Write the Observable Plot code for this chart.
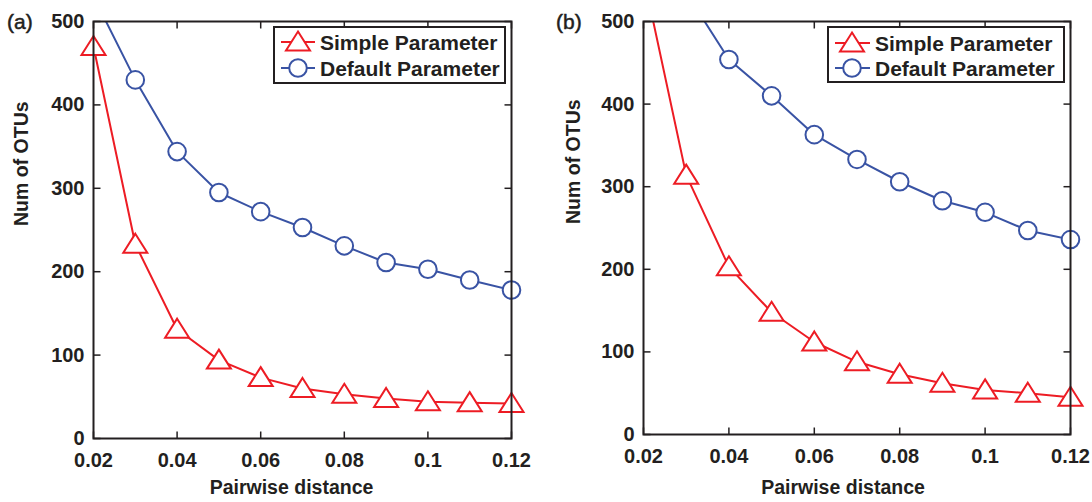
<!DOCTYPE html>
<html><head><meta charset="utf-8">
<script src="https://cdn.jsdelivr.net/npm/d3@7"></script>
<script src="https://cdn.jsdelivr.net/npm/@observablehq/plot@0.6"></script>
<style>
body{margin:0;background:#fff;font-family:"Liberation Sans",Arial,sans-serif;}
#wrap{position:relative;width:1092px;height:502px;overflow:hidden;background:#fff;}
.panel{position:absolute;top:0;}
.plabel{position:absolute;font-size:21px;line-height:21px;color:#231f20;-webkit-text-stroke:0.5px #231f20;}
.legend{position:absolute;overflow:visible;}
</style></head><body>
<div id="wrap"></div>
<script>
// ---- data ----
const distances = [0.02, 0.03, 0.04, 0.05, 0.06, 0.07, 0.08, 0.09, 0.10, 0.11, 0.12];
const simpleA  = [470, 233, 131, 94, 73, 60, 53, 48, 44, 43, 42];
const defaultA = [530, 430, 344, 295, 272, 253, 231, 211, 203, 190, 178];
const simpleB  = [555, 314, 203, 148, 112, 88, 73, 62, 54, 50, 45];
const defaultB = [650, 535, 454, 410, 363, 333, 306, 283, 269, 247, 236];
const seriesNames = ["Simple Parameter", "Default Parameter"];
const xTicks = [0.02, 0.04, 0.06, 0.08, 0.1, 0.12];
const yTicks = [0, 100, 200, 300, 400, 500];
const panelLabels = ["(a)", "(b)"];
const xLabel = "Pairwise distance";
const yLabel = "Num of OTUs";

const RED = "#ed1c24", BLUE = "#3953a4", INK = "#231f20";
const FONT = "'Liberation Sans', Arial, sans-serif";

const triSym = {draw(ctx, size) { const k = Math.sqrt(size / Math.PI) / 10;
  ctx.moveTo(0, -10.5 * k); ctx.lineTo(12 * k, 8.5 * k); ctx.lineTo(-12 * k, 8.5 * k); ctx.closePath(); }};
const cirSym = {draw(ctx, size) { const r = Math.sqrt(size / Math.PI); ctx.moveTo(r, 0); ctx.arc(0, 0, r, 0, 2 * Math.PI); }};
const tickSym = (dx, dy) => ({draw(ctx) { ctx.moveTo(0, 0); ctx.lineTo(dx, dy); }});
const TL = 7;

function makePanel(cfg) {
  const rows = [];
  distances.forEach((d, i) => {
    rows.push({d, v: cfg.simple[i], s: seriesNames[0]});
    rows.push({d, v: cfg.deflt[i], s: seriesNames[1]});
  });
  const simpleRows = rows.filter(r => r.s === seriesNames[0]);
  const defaultRows = rows.filter(r => r.s === seriesNames[1]);
  const tickOpts = {stroke: INK, strokeWidth: 1.5, fill: "none", r: 5};
  return Plot.plot({
    width: cfg.width, height: 502,
    marginLeft: cfg.ml, marginRight: cfg.mr, marginTop: 21, marginBottom: cfg.mb,
    style: {fontFamily: FONT, color: INK, background: "transparent"},
    x: {domain: [0.02, 0.12]},
    y: {domain: [0, 500]},
    marks: [
      Plot.line(simpleRows, {x: "d", y: "v", stroke: RED, strokeWidth: 2, clip: true}),
      Plot.line(defaultRows, {x: "d", y: "v", stroke: BLUE, strokeWidth: 2, clip: true}),
      Plot.dot(simpleRows, {x: "d", y: "v", filter: r => r.v <= 500, symbol: triSym, r: 10, stroke: RED, strokeWidth: 2, fill: "white"}),
      Plot.dot(defaultRows, {x: "d", y: "v", filter: r => r.v <= 500, symbol: cirSym, r: 8.8, stroke: BLUE, strokeWidth: 2, fill: "white"}),
      Plot.frame({stroke: INK, strokeWidth: 2}),
      Plot.dot(yTicks, {y: d => d, frameAnchor: "left", symbol: tickSym(TL, 0), ...tickOpts}),
      Plot.dot(yTicks, {y: d => d, frameAnchor: "right", symbol: tickSym(-TL, 0), ...tickOpts}),
      Plot.dot(xTicks, {x: d => d, frameAnchor: "bottom", symbol: tickSym(0, -TL), ...tickOpts}),
      Plot.dot(xTicks, {x: d => d, frameAnchor: "top", symbol: tickSym(0, TL), ...tickOpts}),
      Plot.axisY({ticks: yTicks, tickSize: 0, tickPadding: 9, tickFormat: d => String(d), label: null, fontSize: 20, fontWeight: "bold", fill: INK}),
      Plot.axisX({ticks: xTicks, tickSize: 0, tickPadding: 14, tickFormat: d => String(d), label: null, fontSize: 20, fontWeight: "bold", fill: INK}),
      Plot.text([yLabel], {text: d => d, frameAnchor: "left", rotate: -90, dx: cfg.ylDx, dy: -4, fontSize: 19.5, fontWeight: "bold", fill: INK}),
      Plot.text([xLabel], {text: d => d, frameAnchor: "bottom", dx: cfg.xlDx, dy: cfg.xlDy, fontSize: 19.5, fontWeight: "bold", fill: INK})
    ]
  });
}

function makeLegend(x, y, w, h, r1, r2, lx1, lx2, mx, tx) {
  const ns = "http://www.w3.org/2000/svg";
  const svg = document.createElementNS(ns, "svg");
  svg.setAttribute("class", "legend");
  svg.setAttribute("width", w); svg.setAttribute("height", h);
  svg.style.left = x + "px"; svg.style.top = y + "px";
  const add = (tag, attrs, text) => { const el = document.createElementNS(ns, tag);
    for (const k in attrs) el.setAttribute(k, attrs[k]); if (text) el.textContent = text; svg.appendChild(el); return el; };
  add("rect", {x: 1, y: 1, width: w - 2, height: h - 2, fill: "white", stroke: INK, "stroke-width": 2});
  const items = [{cy: r1, color: RED, tri: true}, {cy: r2, color: BLUE, tri: false}];
  items.forEach((it, i) => {
    add("line", {x1: lx1, x2: lx2, y1: it.cy, y2: it.cy, stroke: it.color, "stroke-width": 2});
    if (it.tri) add("path", {d: `M${mx},${it.cy - 10.5}L${mx + 12},${it.cy + 8.5}L${mx - 12},${it.cy + 8.5}Z`, fill: "white", stroke: it.color, "stroke-width": 2});
    else add("circle", {cx: mx, cy: it.cy, r: 8.8, fill: "white", stroke: it.color, "stroke-width": 2});
    add("text", {x: tx, y: it.cy + 7.5, "font-family": FONT, "font-size": 21, "font-weight": "bold", fill: INK}, seriesNames[i]);
  });
  return svg;
}

const wrap = document.getElementById("wrap");
const cfgs = [
  {left: 0, width: 546, ml: 93, mr: 35, mb: 64, simple: simpleA, deflt: defaultA, ylDx: -72, xlDx: -11, xlDy: 55},
  {left: 546, width: 546, ml: 97, mr: 22, mb: 68, simple: simpleB, deflt: defaultB, ylDx: -70, xlDx: -14, xlDy: 59}
];
cfgs.forEach((cfg, i) => {
  const div = document.createElement("div");
  div.className = "panel"; div.style.left = cfg.left + "px";
  div.appendChild(makePanel(cfg));
  wrap.appendChild(div);
  const lab = document.createElement("div");
  lab.className = "plabel"; lab.textContent = panelLabels[i];
  lab.style.left = (i === 0 ? 7 : 556) + "px"; lab.style.top = "11px";
  wrap.appendChild(lab);
});
wrap.appendChild(makeLegend(273, 26, 233, 58, 16, 42, 8, 42, 25, 47));
wrap.appendChild(makeLegend(827, 26, 238, 57, 17, 42, 8, 43, 25, 48));
</script>
</body></html>
